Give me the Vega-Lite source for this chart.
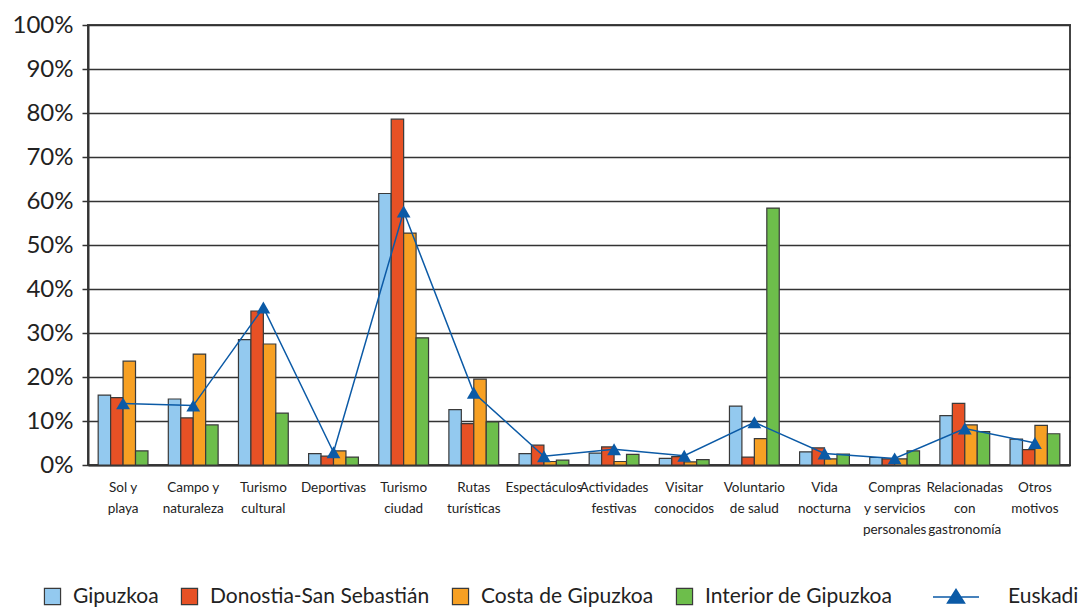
{
  "$schema": "https://vega.github.io/schema/vega-lite/v6.json",
  "width": 982,
  "height": 440,
  "autosize": "none",
  "padding": {"left": 88, "top": 25, "right": 15, "bottom": 147},
  "background": "white",
  "config": {
    "font": "Lato",
    "view": {"stroke": "#444", "strokeWidth": 2}
  },
  "datasets": {
    "bars": [
      {"cat": "Sol y|playa", "series": "Gipuzkoa", "value": 15.9},
      {"cat": "Sol y|playa", "series": "Donostia-San Sebastián", "value": 15.3},
      {"cat": "Sol y|playa", "series": "Costa de Gipuzkoa", "value": 23.6},
      {"cat": "Sol y|playa", "series": "Interior de Gipuzkoa", "value": 3.2},
      {"cat": "Campo y|naturaleza", "series": "Gipuzkoa", "value": 15.0},
      {"cat": "Campo y|naturaleza", "series": "Donostia-San Sebastián", "value": 10.7},
      {"cat": "Campo y|naturaleza", "series": "Costa de Gipuzkoa", "value": 25.2},
      {"cat": "Campo y|naturaleza", "series": "Interior de Gipuzkoa", "value": 9.1},
      {"cat": "Turismo|cultural", "series": "Gipuzkoa", "value": 28.5},
      {"cat": "Turismo|cultural", "series": "Donostia-San Sebastián", "value": 35.0},
      {"cat": "Turismo|cultural", "series": "Costa de Gipuzkoa", "value": 27.5},
      {"cat": "Turismo|cultural", "series": "Interior de Gipuzkoa", "value": 11.8},
      {"cat": "Deportivas", "series": "Gipuzkoa", "value": 2.6},
      {"cat": "Deportivas", "series": "Donostia-San Sebastián", "value": 2.0},
      {"cat": "Deportivas", "series": "Costa de Gipuzkoa", "value": 3.2},
      {"cat": "Deportivas", "series": "Interior de Gipuzkoa", "value": 1.8},
      {"cat": "Turismo|ciudad", "series": "Gipuzkoa", "value": 61.7},
      {"cat": "Turismo|ciudad", "series": "Donostia-San Sebastián", "value": 78.6},
      {"cat": "Turismo|ciudad", "series": "Costa de Gipuzkoa", "value": 52.7},
      {"cat": "Turismo|ciudad", "series": "Interior de Gipuzkoa", "value": 28.9},
      {"cat": "Rutas|turísticas", "series": "Gipuzkoa", "value": 12.6},
      {"cat": "Rutas|turísticas", "series": "Donostia-San Sebastián", "value": 9.4},
      {"cat": "Rutas|turísticas", "series": "Costa de Gipuzkoa", "value": 19.5},
      {"cat": "Rutas|turísticas", "series": "Interior de Gipuzkoa", "value": 9.8},
      {"cat": "Espectáculos", "series": "Gipuzkoa", "value": 2.6},
      {"cat": "Espectáculos", "series": "Donostia-San Sebastián", "value": 4.5},
      {"cat": "Espectáculos", "series": "Costa de Gipuzkoa", "value": 0.8},
      {"cat": "Espectáculos", "series": "Interior de Gipuzkoa", "value": 1.1},
      {"cat": "Actividades|festivas", "series": "Gipuzkoa", "value": 2.7},
      {"cat": "Actividades|festivas", "series": "Donostia-San Sebastián", "value": 4.1},
      {"cat": "Actividades|festivas", "series": "Costa de Gipuzkoa", "value": 0.8},
      {"cat": "Actividades|festivas", "series": "Interior de Gipuzkoa", "value": 2.4},
      {"cat": "Visitar|conocidos", "series": "Gipuzkoa", "value": 1.5},
      {"cat": "Visitar|conocidos", "series": "Donostia-San Sebastián", "value": 1.9},
      {"cat": "Visitar|conocidos", "series": "Costa de Gipuzkoa", "value": 0.7},
      {"cat": "Visitar|conocidos", "series": "Interior de Gipuzkoa", "value": 1.2},
      {"cat": "Voluntario|de salud", "series": "Gipuzkoa", "value": 13.4},
      {"cat": "Voluntario|de salud", "series": "Donostia-San Sebastián", "value": 1.8},
      {"cat": "Voluntario|de salud", "series": "Costa de Gipuzkoa", "value": 6.0},
      {"cat": "Voluntario|de salud", "series": "Interior de Gipuzkoa", "value": 58.4},
      {"cat": "Vida|nocturna", "series": "Gipuzkoa", "value": 3.0},
      {"cat": "Vida|nocturna", "series": "Donostia-San Sebastián", "value": 3.9},
      {"cat": "Vida|nocturna", "series": "Costa de Gipuzkoa", "value": 1.4},
      {"cat": "Vida|nocturna", "series": "Interior de Gipuzkoa", "value": 2.5},
      {"cat": "Compras|y servicios|personales", "series": "Gipuzkoa", "value": 1.7},
      {"cat": "Compras|y servicios|personales", "series": "Donostia-San Sebastián", "value": 1.4},
      {"cat": "Compras|y servicios|personales", "series": "Costa de Gipuzkoa", "value": 1.4},
      {"cat": "Compras|y servicios|personales", "series": "Interior de Gipuzkoa", "value": 3.2},
      {"cat": "Relacionadas|con|gastronomía", "series": "Gipuzkoa", "value": 11.2},
      {"cat": "Relacionadas|con|gastronomía", "series": "Donostia-San Sebastián", "value": 14.0},
      {"cat": "Relacionadas|con|gastronomía", "series": "Costa de Gipuzkoa", "value": 9.1},
      {"cat": "Relacionadas|con|gastronomía", "series": "Interior de Gipuzkoa", "value": 7.6},
      {"cat": "Otros|motivos", "series": "Gipuzkoa", "value": 5.9},
      {"cat": "Otros|motivos", "series": "Donostia-San Sebastián", "value": 3.5},
      {"cat": "Otros|motivos", "series": "Costa de Gipuzkoa", "value": 9.0},
      {"cat": "Otros|motivos", "series": "Interior de Gipuzkoa", "value": 7.1}
    ],
    "eus": [
      {"cat": "Sol y|playa", "series": "Euskadi", "value": 14.0},
      {"cat": "Campo y|naturaleza", "series": "Euskadi", "value": 13.5},
      {"cat": "Turismo|cultural", "series": "Euskadi", "value": 35.8},
      {"cat": "Deportivas", "series": "Euskadi", "value": 2.9},
      {"cat": "Turismo|ciudad", "series": "Euskadi", "value": 57.6},
      {"cat": "Rutas|turísticas", "series": "Euskadi", "value": 16.4},
      {"cat": "Espectáculos", "series": "Euskadi", "value": 2.0},
      {"cat": "Actividades|festivas", "series": "Euskadi", "value": 3.6},
      {"cat": "Visitar|conocidos", "series": "Euskadi", "value": 2.1},
      {"cat": "Voluntario|de salud", "series": "Euskadi", "value": 9.7},
      {"cat": "Vida|nocturna", "series": "Euskadi", "value": 2.6},
      {"cat": "Compras|y servicios|personales", "series": "Euskadi", "value": 1.5},
      {"cat": "Relacionadas|con|gastronomía", "series": "Euskadi", "value": 8.3},
      {"cat": "Otros|motivos", "series": "Euskadi", "value": 5.0}
    ]
  },
  "encoding": {
    "x": {
      "field": "cat",
      "type": "nominal",
      "title": null,
      "scale": {
        "domain": ["Sol y|playa", "Campo y|naturaleza", "Turismo|cultural", "Deportivas", "Turismo|ciudad", "Rutas|turísticas", "Espectáculos", "Actividades|festivas", "Visitar|conocidos", "Voluntario|de salud", "Vida|nocturna", "Compras|y servicios|personales", "Relacionadas|con|gastronomía", "Otros|motivos"],
        "paddingInner": 0.29,
        "paddingOuter": 0.145
      },
      "axis": {
        "labelAngle": 0,
        "labelExpr": "split(datum.label, '|')",
        "labelFontSize": 13.5,
        "labelLineHeight": 21,
        "labelColor": "#222",
        "labelPadding": 15,
        "labelLimit": 0,
        "labelBaseline": "top",
        "ticks": false,
        "domain": true,
        "domainColor": "#333",
        "domainWidth": 2
      }
    },
    "y": {
      "field": "value",
      "type": "quantitative",
      "title": null,
      "scale": {"domain": [0, 100], "nice": false},
      "axis": {
        "values": [0, 10, 20, 30, 40, 50, 60, 70, 80, 90, 100],
        "labelExpr": "datum.value + '%'",
        "labelFontSize": 24,
        "labelColor": "#222",
        "labelPadding": 9,
        "tickSize": 6,
        "tickColor": "#333",
        "tickWidth": 1.5,
        "grid": true,
        "gridColor": "#333",
        "gridWidth": 1.5,
        "domainColor": "#333",
        "domainWidth": 2
      }
    }
  },
  "layer": [
    {
      "data": {"name": "bars"},
      "mark": {"type": "bar", "stroke": "#3a3a3a", "strokeWidth": 1.2},
      "encoding": {
        "xOffset": {
          "field": "series",
          "type": "nominal",
          "scale": {"domain": ["Gipuzkoa", "Donostia-San Sebastián", "Costa de Gipuzkoa", "Interior de Gipuzkoa"], "paddingInner": 0, "paddingOuter": 0}
        },
        "color": {
          "field": "series",
          "type": "nominal",
          "scale": {
            "domain": ["Gipuzkoa", "Donostia-San Sebastián", "Costa de Gipuzkoa", "Interior de Gipuzkoa"],
            "range": ["#93c9ef", "#e75125", "#f7a023", "#6dbe4b"]
          },
          "legend": {
            "title": null,
            "orient": "none",
            "direction": "horizontal",
            "legendX": -46,
            "legendY": 561,
            "symbolType": "square",
            "symbolSize": 260,
            "symbolStrokeColor": "#3a3a3a",
            "symbolStrokeWidth": 1.2,
            "symbolOpacity": 1,
            "labelFontSize": 21,
            "labelColor": "#222",
            "labelOffset": 10,
            "labelLimit": 0,
            "columnPadding": 20
          }
        }
      }
    },
    {
      "data": {"name": "eus"},
      "mark": {"type": "line", "strokeWidth": 1.5},
      "encoding": {
        "stroke": {
          "field": "series",
          "type": "nominal",
          "scale": {"domain": ["Euskadi"], "range": ["#0b5aa6"]},
          "legend": {
            "title": null,
            "orient": "none",
            "legendX": 857,
            "legendY": 561,
            "symbolType": "M-2.3,0H2.3M0,-0.75L0.85,0.6H-0.85Z",
            "symbolSize": 400,
            "symbolStrokeWidth": 1.5,
            "symbolFillColor": "#0b5aa6",
            "labelFontSize": 21,
            "labelColor": "#222",
            "labelOffset": 41,
            "labelLimit": 0,
            "encode": {"symbols": {"update": {"fill": {"value": "#0b5aa6"}, "stroke": {"value": "#0b5aa6"}}}}
          }
        }
      }
    },
    {
      "data": {"name": "eus"},
      "mark": {"type": "point", "shape": "triangle-up", "filled": true, "size": 190, "color": "#0b5aa6", "opacity": 1},
      "encoding": {}
    }
  ]
}
